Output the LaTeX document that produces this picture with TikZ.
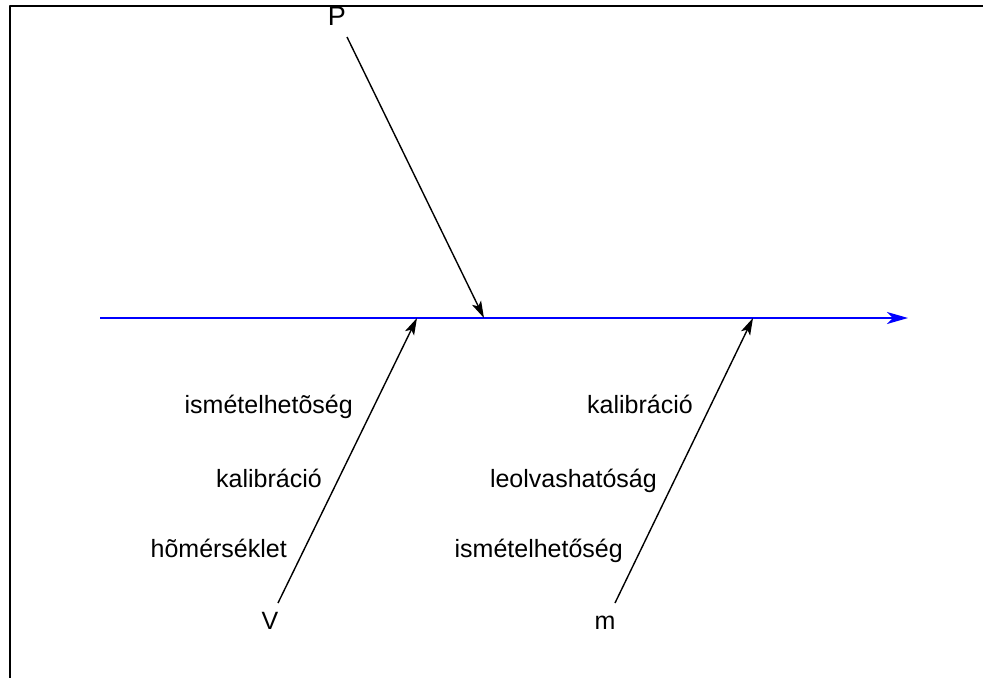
\documentclass[tikz,border=0pt]{standalone}
\usepackage{fontspec}
\setmainfont{Liberation Sans}
\usetikzlibrary{arrows.meta}
\tikzset{lbl/.style={anchor=base east,inner sep=0pt},
  cause/.style={->,line width=1.4pt},
  tip/.style={anchor=base,inner sep=0pt}}

\begin{document}
\begin{tikzpicture}[x=1pt,y=-1pt,>={Stealth[length=17pt,width=10pt,inset=4pt]},line join=round,font=\fontsize{25}{30}\selectfont]
\useasboundingbox (0,0) rectangle (983,678);
% --- frame
\draw[line width=1.6pt] (983,6) -- (10,6) -- (10,678);
% --- spine
\coordinate (tail) at (100,318);
\coordinate (head) at (908,318);
\draw[blue,line width=1.6pt,-{Stealth[length=21pt,width=12pt,inset=6pt]}] (tail) -- (head);
% --- P branch
\node[tip,font=\fontsize{27}{30}\selectfont] (P) at (337,25) {P};
\coordinate (Pend) at (347,37); \coordinate (Ptip) at (484,318);
\draw[cause] (Pend) -- (Ptip);
% --- V branch
\node[tip] (V) at (270,629) {V};
\coordinate (Vend) at (278,603); \coordinate (Vtip) at (417,318);
\draw[cause] (Vend) -- (Vtip);
\node[lbl] (v1) at (353,413) {ismételhetõség};
\node[lbl] (v2) at (322,487) {kalibráció};
\node[lbl] (v3) at (287,557) {hõmérséklet};
% --- m branch
\node[tip] (m) at (605,629) {m};
\coordinate (mend) at (615,603); \coordinate (mtip) at (753,318);
\draw[cause] (mend) -- (mtip);
\node[lbl] (m1) at (693,413) {kalibráció};
\node[lbl] (m2) at (657,487) {leolvashatóság};
\node[lbl] (m3) at (623,557) {ismételhetőség};
\end{tikzpicture}
\end{document}
